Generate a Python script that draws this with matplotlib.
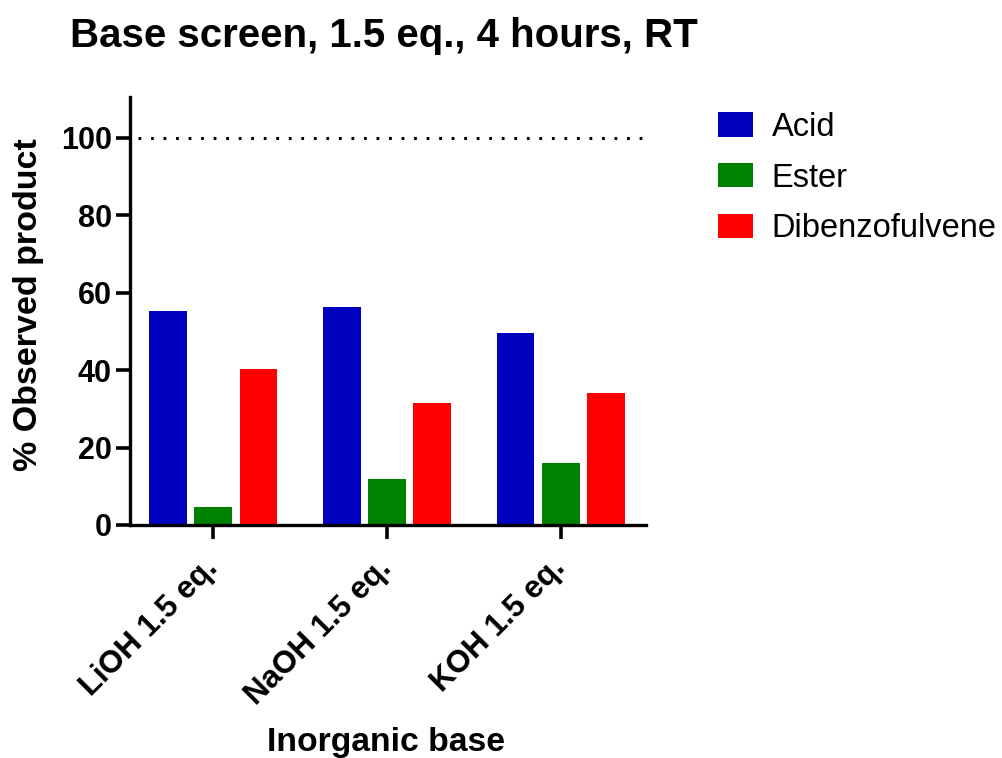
import numpy as np
import matplotlib
matplotlib.use("Agg")
import matplotlib.pyplot as plt
import matplotlib.transforms as mtransforms
from matplotlib.patches import Patch

plt.rcParams['font.family'] = ['Liberation Sans', 'DejaVu Sans']

bases = ["LiOH 1.5 eq.", "NaOH 1.5 eq.", "KOH 1.5 eq."]
series = ["Acid", "Ester", "Dibenzofulvene"]
acid = [55.3, 56.3, 49.6]
ester = [4.7, 11.9, 15.9]
dibenzofulvene = [40.3, 31.4, 34.0]
colors = ["#0000C0", "#008000", "#FF0000"]
yticks = [0, 20, 40, 60, 80, 100]

fig = plt.figure(figsize=(10.02, 7.58), dpi=100)
ax = fig.add_axes([0.1297, 0.3074, 0.515, 0.5642])

x = np.arange(len(bases))
width = 0.2175
step = 0.2606
for i, (vals, c) in enumerate(zip([acid, ester, dibenzofulvene], colors)):
    ax.bar(x + (i - 1) * step, vals, width, color=c, edgecolor="none", zorder=2)

# dotted reference line at 100 %
ax.plot([-0.43, 2.49], [100, 100], linestyle=(0, (0.9, 3.2)), color="black",
        lw=2.2, zorder=1)

ax.set_xlim(-0.479, 2.49)
ax.set_ylim(0, 110.4)
ax.set_yticks(yticks)
ax.set_xticks(x)

for s in ["top", "right"]:
    ax.spines[s].set_visible(False)
for s in ["left", "bottom"]:
    ax.spines[s].set_linewidth(2.4)
ax.tick_params(axis="both", length=10, width=2.6, pad=3)
ax.tick_params(axis="x", pad=10)

ax.set_xticklabels(bases, rotation=45, ha="right", rotation_mode="anchor",
                   fontsize=22.5, fontweight="bold")
# labels in the reference sit a little left of their ticks
shift = mtransforms.ScaledTranslation(-11 / 100, 0, fig.dpi_scale_trans)
for lab in ax.get_xticklabels():
    lab.set_transform(lab.get_transform() + shift)
for lab in ax.get_yticklabels():
    lab.set_fontsize(22)
    lab.set_fontweight("bold")

fig.text(28.5 / 1002, 1 - 305 / 758, "% Observed product", fontsize=24.5,
         fontweight="bold", rotation=90, ha="center", va="center")
fig.text(386 / 1002, 1 - 742 / 758, "Inorganic base", fontsize=24.3,
         fontweight="bold", ha="center", va="center")
fig.text(70 / 1002, 1 - 36 / 758, "Base screen, 1.5 eq., 4 hours, RT", fontsize=29,
         fontweight="bold", ha="left", va="center")

handles = [Patch(facecolor=c, edgecolor="none") for c in colors]
fig.legend(handles, series, loc="upper left", bbox_to_anchor=(718 / 1002, 1 - 112 / 758),
           frameon=False, fontsize=23.5, handlelength=1.07, handleheight=0.77,
           labelspacing=0.6, handletextpad=0.58, borderpad=0, borderaxespad=0)

fig.savefig("out.png", dpi=100)
